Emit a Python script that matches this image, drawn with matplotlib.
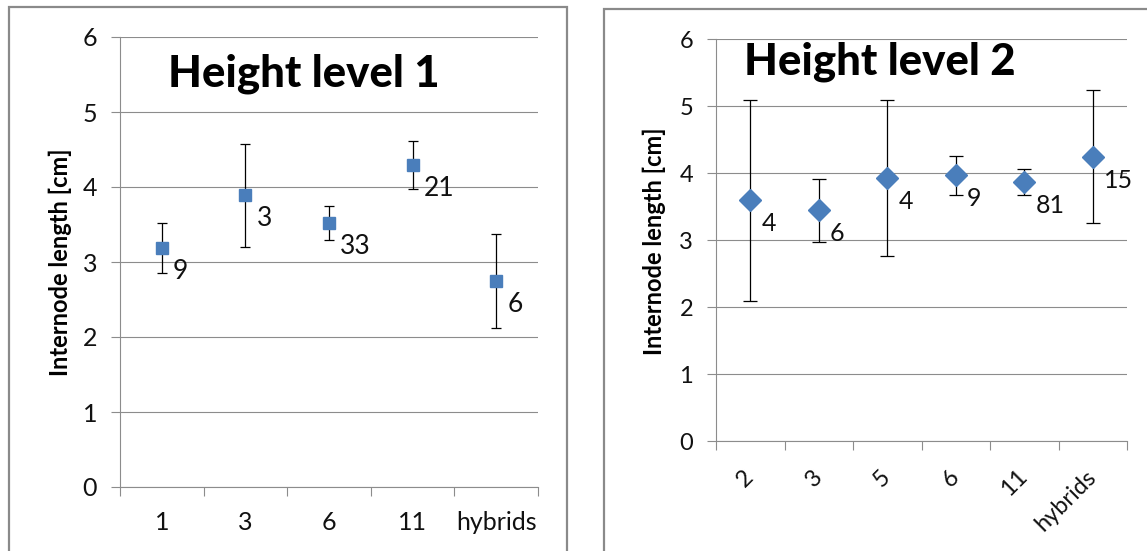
import matplotlib
matplotlib.use("Agg")
import matplotlib.pyplot as plt
from matplotlib.patches import Rectangle
import numpy as np

# height level 1
cats1 = ["1", "3", "6", "11", "hybrids"]
mean1 = [3.19, 3.89, 3.52, 4.29, 2.75]
err1 = [0.33, 0.69, 0.23, 0.32, 0.63]
n1 = ["9", "3", "33", "21", "6"]

# height level 2
cats2 = ["2", "3", "5", "6", "11", "hybrids"]
mean2 = [3.60, 3.45, 3.93, 3.97, 3.87, 4.25]
err2 = [1.50, 0.47, 1.16, 0.29, 0.19, 0.99]
n2 = ["4", "6", "4", "9", "81", "15"]

W, H = 1147, 551
BLUE = "#4a7ebb"
GRID = "#8c8c8c"
TXT = "#111111"

plt.rcParams["font.family"] = ["Lato", "DejaVu Sans"]

fig = plt.figure(figsize=(W / 100, H / 100), dpi=100)


def fx(x):
    return x / W


def fy(y):
    return 1 - y / H


# panel borders (like excel chart areas)
fig.patches.append(Rectangle((fx(8.5), fy(560)), fx(567 - 8.5), fy(6.5) - fy(560),
                             transform=fig.transFigure, fill=False, ec="#8a8a8a", lw=1.6))
fig.patches.append(Rectangle((fx(603.5), fy(560)), fx(1160 - 603.5), fy(9) - fy(560),
                             transform=fig.transFigure, fill=False, ec="#8a8a8a", lw=1.6))


def panel(rect, cats, means, errs, ns, marker, msize, cap, tsize, lsize, rot):
    ax = fig.add_axes(rect)
    x = np.arange(len(cats))
    ax.errorbar(x, means, yerr=errs, fmt="none", ecolor="black", elinewidth=0.9,
                capsize=cap, capthick=0.9, zorder=3)
    ax.plot(x, means, linestyle="none", marker=marker, markersize=msize,
            color=BLUE, mec=BLUE, zorder=4)
    for xi, yi, t in zip(x, means, ns):
        ax.annotate(t, (xi, yi), xytext=(8, -17), textcoords="offset points",
                    ha="left", va="center", fontsize=lsize, color=TXT, zorder=5)
    ax.set_xlim(-0.5, len(cats) - 0.5)
    ax.set_ylim(0, 6)
    ax.set_yticks(range(7))
    ax.grid(axis="y", color=GRID, lw=0.8)
    ax.set_axisbelow(True)
    for s in ["top", "right"]:
        ax.spines[s].set_visible(False)
    for s in ["left", "bottom"]:
        ax.spines[s].set_color(GRID)
        ax.spines[s].set_linewidth(0.8)
    ax.tick_params(axis="y", length=6.5, width=0.8, color=GRID, pad=10,
                   labelsize=tsize, labelcolor=TXT)
    ax.set_xticks(x)
    ax.set_xticks(np.arange(len(cats) + 1) - 0.5, minor=True)
    ax.tick_params(axis="x", which="minor", length=6.5, width=0.8, color=GRID)
    if rot:
        ax.set_xticklabels(cats, rotation=45, ha="right", va="center",
                           rotation_mode="anchor")
        ax.tick_params(axis="x", which="major", length=0, pad=23,
                       labelsize=tsize, labelcolor=TXT)
    else:
        ax.set_xticklabels(cats)
        ax.tick_params(axis="x", which="major", length=0, pad=17,
                       labelsize=tsize, labelcolor=TXT)
    return ax


panel([fx(120), fy(487), fx(538 - 120), fy(37) - fy(487)],
      cats1, mean1, err1, n1, "s", 9, 3.9, 18, 19, False)
panel([fx(716), fy(441.4), fx(1127 - 716), fy(39.3) - fy(441.4)],
      cats2, mean2, err2, n2, "D", 11, 4.7, 17, 18, True)

fig.text(fx(303.5), fy(86), "Height level 1", ha="center", va="baseline",
         fontsize=31.5, fontweight="black", color="black")
fig.text(fx(880), fy(74.4), "Height level 2", ha="center", va="baseline",
         fontsize=31.5, fontweight="black", color="black")

fig.text(fx(60), fy(262), "Internode length [cm]", rotation=90, ha="center",
         va="center", fontsize=17, fontweight="bold", color="black")
fig.text(fx(654), fy(241), "Internode length [cm]", rotation=90, ha="center",
         va="center", fontsize=17, fontweight="bold", color="black")

fig.savefig("out.png", dpi=100)
